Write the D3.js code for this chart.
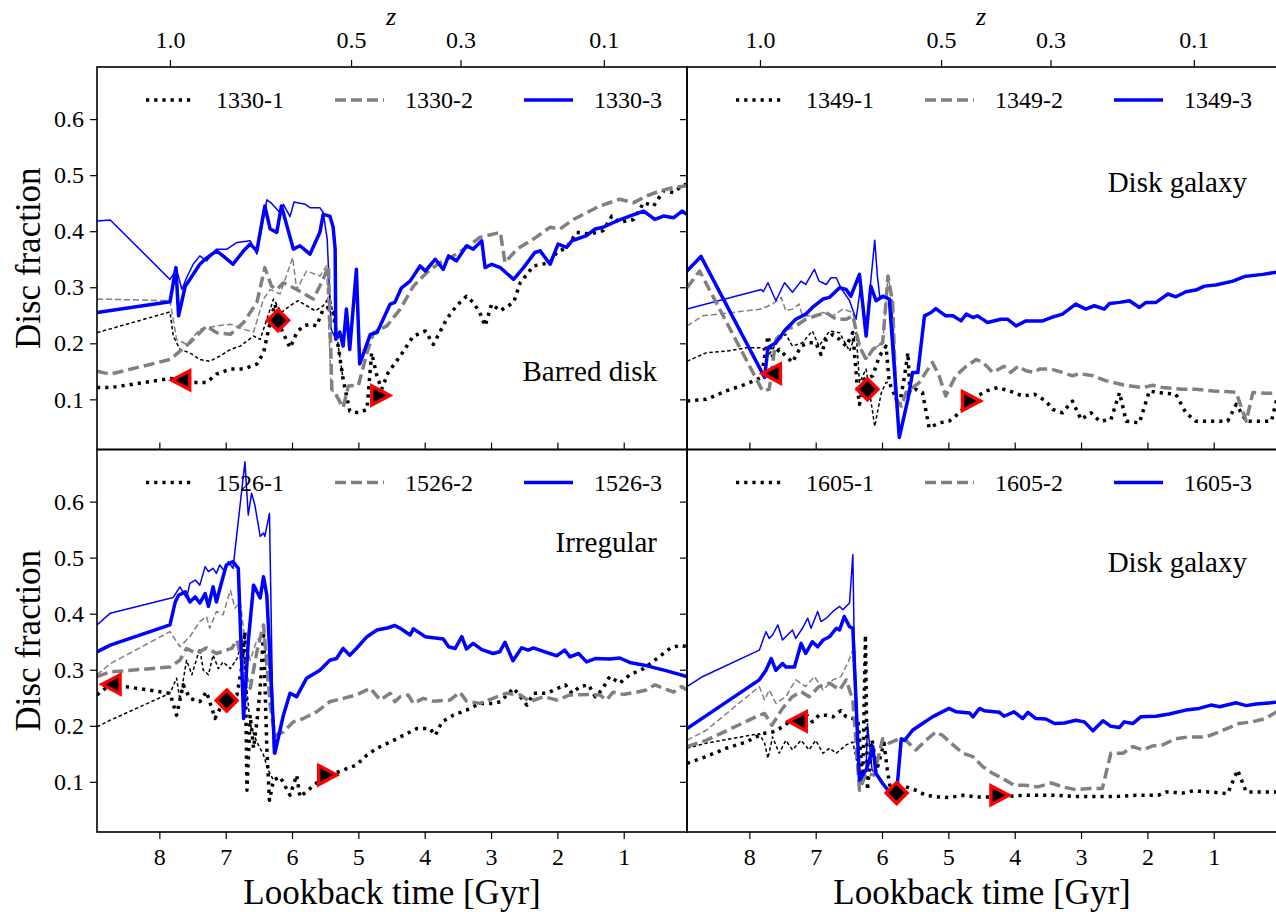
<!DOCTYPE html>
<html>
<head>
<meta charset="utf-8">
<script src="https://cdn.jsdelivr.net/npm/d3@7"></script>
<style>
	body{margin:0;background:#fff;}
	svg text{font-family:"Liberation Serif","Times New Roman",serif;fill:#000;}
</style>
</head>
<body>
<svg id="chart" width="1276" height="912"></svg>
<script>
// ---- data: [lookback time (Gyr), disc fraction] ----
var xTicks = [8, 7, 6, 5, 4, 3, 2, 1];
var yTicks = [0.1, 0.2, 0.3, 0.4, 0.5, 0.6];
var zTickLabels = ["1.0", "0.5", "0.3", "0.1"];
var zTickTimes = [7.84, 5.11, 3.46, 1.30];
var haloNames = ["1330", "1349", "1526", "1605"];
var morphology = ["Barred disk", "Disk galaxy", "Irregular", "Disk galaxy"];

// 1330
var d1330_1 = [[8.94,0.121],[8.74,0.121],[7.84,0.137],[7.69,0.136],[7.49,0.130],[7.29,0.130],[7.14,0.145],[6.93,0.154],[6.73,0.154],[6.53,0.163],[6.43,0.183],[6.33,0.237],[6.26,0.270],[6.16,0.225],[6.03,0.192],[5.93,0.219],[5.83,0.231],[5.73,0.234],[5.63,0.231],[5.53,0.261],[5.45,0.264],[5.38,0.255],[5.23,0.136],[5.13,0.079],[5.00,0.076],[4.87,0.082],[4.80,0.183],[4.72,0.142],[4.65,0.118],[4.55,0.148],[4.37,0.177],[4.17,0.213],[3.99,0.222],[3.87,0.198],[3.67,0.243],[3.52,0.267],[3.37,0.284],[3.27,0.273],[3.17,0.255],[3.09,0.231],[2.99,0.270],[2.86,0.258],[2.66,0.273],[2.56,0.308],[2.36,0.338],[2.11,0.344],[2.01,0.362],[1.86,0.371],[1.71,0.398],[1.51,0.395],[1.31,0.401],[1.18,0.427],[1.06,0.416],[0.85,0.421],[0.70,0.451],[0.55,0.445],[0.40,0.472],[0.25,0.469],[0.12,0.481],[0.05,0.484]];
var d1330_1thin = [[8.94,0.219],[7.84,0.256],[7.79,0.213],[7.69,0.189],[7.54,0.183],[7.39,0.171],[7.24,0.168],[7.09,0.177],[6.93,0.189],[6.78,0.195],[6.68,0.204],[6.58,0.213],[6.48,0.207],[6.38,0.243],[6.28,0.279],[6.16,0.255],[6.03,0.267],[5.91,0.276],[5.78,0.267],[5.65,0.258],[5.53,0.267],[5.43,0.284],[5.34,0.225],[5.23,0.136]];
var d1330_2 = [[8.94,0.150],[8.74,0.145],[7.84,0.171],[7.54,0.201],[7.29,0.231],[7.14,0.219],[6.93,0.216],[6.73,0.237],[6.53,0.273],[6.41,0.335],[6.31,0.302],[6.23,0.296],[6.13,0.308],[5.93,0.296],[5.68,0.279],[5.53,0.314],[5.45,0.338],[5.40,0.118],[5.34,0.109],[5.23,0.085],[5.15,0.124],[5.00,0.125],[4.87,0.183],[4.77,0.219],[4.57,0.231],[4.37,0.261],[4.17,0.302],[3.97,0.326],[3.77,0.344],[3.57,0.356],[3.37,0.371],[3.17,0.389],[2.86,0.398],[2.79,0.344],[2.61,0.368],[2.36,0.386],[2.11,0.407],[1.96,0.404],[1.76,0.421],[1.56,0.433],[1.36,0.445],[1.06,0.457],[0.85,0.451],[0.65,0.463],[0.45,0.472],[0.25,0.478],[0.05,0.481]];
var d1330_2thin = [[8.94,0.279],[7.84,0.276],[7.74,0.207],[7.59,0.198],[7.39,0.225],[7.14,0.231],[6.93,0.234],[6.73,0.225],[6.58,0.220],[6.43,0.279],[6.33,0.296],[6.18,0.288],[5.99,0.353],[5.93,0.296],[5.78,0.329],[5.58,0.320],[5.48,0.338],[5.41,0.118],[5.34,0.109]];
var d1330_3 = [[8.94,0.255],[7.84,0.274],[7.75,0.335],[7.71,0.249],[7.61,0.302],[7.54,0.314],[7.39,0.341],[7.31,0.350],[7.14,0.365],[7.04,0.356],[6.89,0.341],[6.73,0.365],[6.63,0.377],[6.53,0.365],[6.41,0.445],[6.33,0.404],[6.23,0.398],[6.16,0.445],[5.98,0.368],[5.88,0.374],[5.73,0.359],[5.58,0.398],[5.53,0.430],[5.43,0.427],[5.38,0.407],[5.35,0.368],[5.34,0.207],[5.28,0.220],[5.23,0.195],[5.18,0.261],[5.13,0.189],[5.03,0.332],[4.98,0.163],[4.82,0.216],[4.72,0.219],[4.52,0.270],[4.45,0.273],[4.35,0.299],[4.22,0.311],[4.07,0.338],[3.99,0.329],[3.84,0.350],[3.72,0.332],[3.64,0.356],[3.52,0.347],[3.37,0.374],[3.27,0.368],[3.14,0.383],[3.09,0.335],[2.99,0.341],[2.86,0.335],[2.66,0.314],[2.51,0.335],[2.34,0.362],[2.26,0.365],[2.11,0.341],[1.99,0.377],[1.86,0.371],[1.78,0.383],[1.56,0.392],[1.43,0.404],[1.31,0.407],[1.11,0.418],[0.91,0.427],[0.70,0.436],[0.53,0.421],[0.40,0.427],[0.25,0.424],[0.12,0.436],[0.05,0.430]];
var d1330_3thin = [[8.94,0.418],[8.74,0.420],[7.84,0.314],[7.74,0.332],[7.66,0.296],[7.59,0.317],[7.49,0.341],[7.39,0.356],[7.29,0.347],[7.14,0.368],[6.98,0.368],[6.83,0.380],[6.63,0.383],[6.53,0.359],[6.38,0.456],[6.31,0.450],[6.18,0.433],[6.13,0.448],[6.03,0.426],[5.97,0.452],[5.88,0.450],[5.80,0.448],[5.73,0.442],[5.58,0.442],[5.53,0.433],[5.47,0.386],[5.41,0.225],[5.34,0.207]];
var mark1330 = [["left",7.67,0.134],["diamond",6.21,0.241],["right",4.67,0.107]];

// 1349
var d1349_1 = [[8.94,0.097],[8.65,0.100],[8.35,0.115],[8.05,0.127],[7.82,0.139],[7.72,0.213],[7.65,0.177],[7.55,0.189],[7.35,0.166],[7.22,0.195],[7.10,0.201],[7.00,0.201],[6.92,0.180],[6.84,0.207],[6.74,0.216],[6.64,0.207],[6.54,0.195],[6.44,0.219],[6.37,0.118],[6.34,0.091],[6.27,0.136],[6.14,0.142],[6.04,0.177],[5.94,0.195],[5.89,0.130],[5.74,0.088],[5.66,0.142],[5.61,0.183],[5.58,0.112],[5.49,0.118],[5.39,0.112],[5.29,0.049],[5.14,0.058],[4.99,0.061],[4.83,0.076],[4.68,0.097],[4.43,0.115],[4.26,0.121],[4.08,0.115],[3.88,0.106],[3.70,0.109],[3.53,0.097],[3.43,0.082],[3.28,0.076],[3.13,0.097],[3.00,0.064],[2.85,0.076],[2.72,0.061],[2.55,0.064],[2.42,0.112],[2.32,0.061],[2.12,0.058],[1.97,0.115],[1.84,0.112],[1.57,0.109],[1.42,0.076],[1.27,0.061],[1.01,0.061],[0.79,0.061],[0.66,0.091],[0.51,0.061],[0.31,0.061],[0.13,0.061],[0.05,0.100]];
var d1349_1thin = [[8.94,0.168],[8.65,0.183],[8.35,0.186],[8.05,0.192],[7.80,0.192],[7.72,0.177],[7.65,0.189],[7.55,0.207],[7.45,0.216],[7.35,0.195],[7.20,0.201],[7.05,0.222],[6.95,0.195],[6.79,0.222],[6.64,0.219],[6.49,0.186],[6.39,0.219],[6.34,0.130],[6.24,0.154],[6.11,0.052],[6.01,0.112],[5.94,0.130],[5.89,0.130]];
var d1349_2 = [[8.94,0.299],[8.75,0.329],[7.80,0.115],[7.70,0.118],[7.60,0.207],[7.45,0.225],[7.30,0.231],[7.15,0.243],[7.00,0.249],[6.85,0.255],[6.69,0.243],[6.54,0.243],[6.44,0.249],[6.34,0.195],[6.24,0.171],[6.14,0.189],[5.99,0.201],[5.91,0.320],[5.84,0.273],[5.79,0.100],[5.71,0.088],[5.64,0.112],[5.44,0.130],[5.24,0.166],[5.14,0.142],[5.04,0.106],[4.89,0.142],[4.73,0.159],[4.58,0.171],[4.48,0.166],[4.33,0.148],[4.16,0.159],[4.06,0.148],[3.95,0.159],[3.83,0.151],[3.70,0.148],[3.63,0.154],[3.45,0.154],[3.28,0.148],[3.13,0.142],[3.03,0.146],[2.82,0.142],[2.62,0.133],[2.37,0.126],[2.07,0.121],[1.92,0.125],[1.77,0.121],[1.47,0.118],[1.27,0.118],[1.01,0.115],[0.71,0.113],[0.66,0.112],[0.51,0.061],[0.41,0.112],[0.21,0.111],[0.05,0.111]];
var d1349_2thin = [[8.94,0.231],[8.70,0.249],[7.82,0.261],[7.65,0.270],[7.52,0.282],[7.45,0.258],[7.35,0.261],[7.25,0.270],[7.20,0.249],[7.05,0.249],[6.89,0.255],[6.74,0.249],[6.59,0.261],[6.44,0.255],[6.34,0.195],[6.24,0.171],[6.14,0.189],[5.99,0.201],[5.91,0.320],[5.84,0.273],[5.79,0.100]];
var d1349_3 = [[8.94,0.329],[8.73,0.355],[7.77,0.139],[7.72,0.192],[7.60,0.201],[7.45,0.225],[7.30,0.243],[7.15,0.252],[7.05,0.264],[6.89,0.279],[6.79,0.282],[6.64,0.299],[6.54,0.296],[6.47,0.284],[6.34,0.323],[6.24,0.213],[6.17,0.302],[6.09,0.276],[5.99,0.284],[5.89,0.279],[5.74,0.032],[5.61,0.100],[5.54,0.148],[5.46,0.148],[5.36,0.249],[5.26,0.255],[5.19,0.262],[5.04,0.249],[4.93,0.249],[4.81,0.240],[4.73,0.252],[4.63,0.246],[4.56,0.249],[4.41,0.237],[4.21,0.243],[4.11,0.243],[3.98,0.231],[3.83,0.240],[3.58,0.240],[3.45,0.246],[3.28,0.252],[3.08,0.270],[2.93,0.261],[2.80,0.267],[2.65,0.261],[2.57,0.271],[2.42,0.273],[2.27,0.276],[2.12,0.264],[2.02,0.273],[1.87,0.273],[1.69,0.288],[1.57,0.283],[1.42,0.292],[1.27,0.295],[1.14,0.302],[0.97,0.304],[0.71,0.311],[0.54,0.319],[0.26,0.323],[0.05,0.327]];
var d1349_3thin = [[8.94,0.261],[7.82,0.296],[7.79,0.292],[7.72,0.308],[7.60,0.276],[7.47,0.308],[7.35,0.291],[7.22,0.311],[7.15,0.305],[7.02,0.332],[6.95,0.311],[6.84,0.305],[6.77,0.317],[6.69,0.317],[6.62,0.299],[6.49,0.276],[6.39,0.243],[6.32,0.304],[6.24,0.225],[6.11,0.384],[6.07,0.320],[6.03,0.279],[5.94,0.284],[5.86,0.276],[5.74,0.032]];
var mark1349 = [["left",7.66,0.146],["diamond",6.22,0.118],["right",4.66,0.097]];

// 1526
var d1526_1 = [[8.94,0.255],[8.74,0.274],[7.84,0.258],[7.74,0.219],[7.64,0.273],[7.54,0.249],[7.39,0.243],[7.29,0.261],[7.16,0.213],[7.06,0.237],[6.93,0.246],[6.83,0.255],[6.76,0.303],[6.71,0.368],[6.68,0.085],[6.63,0.219],[6.58,0.160],[6.53,0.207],[6.48,0.267],[6.43,0.368],[6.38,0.160],[6.34,0.067],[6.28,0.103],[6.18,0.109],[6.03,0.076],[5.93,0.112],[5.88,0.073],[5.73,0.088],[5.58,0.103],[5.43,0.112],[5.23,0.121],[5.03,0.130],[4.87,0.148],[4.72,0.160],[4.52,0.171],[4.37,0.180],[4.22,0.189],[4.12,0.195],[3.92,0.195],[3.84,0.183],[3.74,0.207],[3.57,0.219],[3.37,0.228],[3.17,0.240],[2.97,0.240],[2.86,0.243],[2.66,0.267],[2.46,0.237],[2.36,0.258],[2.16,0.258],[1.88,0.273],[1.78,0.258],[1.66,0.270],[1.53,0.273],[1.43,0.252],[1.33,0.264],[1.21,0.288],[1.06,0.276],[0.91,0.291],[0.70,0.302],[0.50,0.320],[0.30,0.338],[0.15,0.344],[0.05,0.341]];
var d1526_1thin = [[8.94,0.198],[8.74,0.210],[7.84,0.258],[7.74,0.285],[7.69,0.246],[7.59,0.317],[7.51,0.291],[7.39,0.338],[7.34,0.300],[7.26,0.291],[7.19,0.326],[7.11,0.302],[7.04,0.314],[6.93,0.302],[6.83,0.320],[6.75,0.353],[6.63,0.201],[6.53,0.171],[6.43,0.148],[6.36,0.121],[6.28,0.103]];
var d1526_2 = [[8.94,0.288],[8.74,0.296],[7.84,0.305],[7.69,0.317],[7.59,0.338],[7.44,0.329],[7.29,0.339],[7.14,0.329],[6.91,0.338],[6.83,0.353],[6.73,0.302],[6.63,0.267],[6.53,0.332],[6.43,0.380],[6.33,0.237],[6.26,0.183],[6.13,0.189],[5.98,0.207],[5.83,0.213],[5.63,0.225],[5.43,0.243],[5.23,0.249],[5.03,0.255],[4.82,0.267],[4.67,0.246],[4.52,0.258],[4.45,0.243],[4.37,0.252],[4.25,0.255],[4.17,0.240],[4.02,0.249],[3.87,0.244],[3.62,0.246],[3.47,0.260],[3.37,0.244],[3.17,0.240],[2.97,0.249],[2.77,0.258],[2.56,0.255],[2.41,0.243],[2.21,0.252],[2.01,0.246],[1.81,0.255],[1.51,0.256],[1.36,0.255],[1.26,0.246],[1.16,0.260],[1.01,0.256],[0.81,0.260],[0.66,0.264],[0.53,0.273],[0.40,0.267],[0.25,0.260],[0.13,0.270],[0.05,0.264]];
var d1526_2thin = [[8.94,0.291],[8.74,0.311],[7.84,0.368],[7.69,0.341],[7.54,0.359],[7.39,0.386],[7.29,0.395],[7.24,0.374],[7.14,0.404],[7.04,0.398],[6.93,0.442],[6.86,0.410],[6.78,0.421],[6.71,0.353],[6.63,0.317],[6.53,0.353],[6.43,0.362],[6.36,0.317],[6.26,0.183]];
var d1526_3 = [[8.94,0.332],[8.74,0.344],[7.84,0.380],[7.76,0.421],[7.71,0.433],[7.61,0.439],[7.54,0.421],[7.46,0.430],[7.39,0.419],[7.31,0.436],[7.26,0.413],[7.19,0.448],[7.14,0.421],[7.06,0.457],[6.99,0.487],[6.89,0.493],[6.81,0.481],[6.73,0.213],[6.66,0.350],[6.58,0.451],[6.48,0.428],[6.43,0.466],[6.38,0.433],[6.26,0.151],[6.13,0.219],[6.03,0.258],[5.93,0.252],[5.78,0.285],[5.58,0.299],[5.43,0.317],[5.33,0.320],[5.23,0.338],[5.13,0.326],[5.03,0.338],[4.87,0.359],[4.72,0.371],[4.55,0.375],[4.45,0.379],[4.37,0.374],[4.22,0.362],[4.17,0.373],[3.99,0.359],[3.87,0.357],[3.72,0.355],[3.64,0.341],[3.54,0.338],[3.44,0.359],[3.37,0.337],[3.27,0.347],[3.14,0.336],[2.97,0.329],[2.87,0.332],[2.79,0.349],[2.67,0.316],[2.54,0.339],[2.44,0.335],[2.36,0.339],[2.19,0.332],[2.01,0.325],[1.89,0.335],[1.81,0.323],[1.68,0.329],[1.56,0.314],[1.43,0.320],[1.21,0.319],[1.06,0.321],[0.91,0.313],[0.65,0.307],[0.35,0.298],[0.05,0.288]];
var d1526_3thin = [[8.94,0.380],[8.74,0.401],[7.79,0.429],[7.69,0.448],[7.59,0.428],[7.54,0.454],[7.46,0.460],[7.39,0.451],[7.31,0.484],[7.26,0.475],[7.19,0.481],[7.14,0.472],[7.09,0.487],[7.01,0.475],[6.96,0.493],[6.89,0.481],[6.71,0.671],[6.66,0.576],[6.61,0.615],[6.56,0.594],[6.48,0.538],[6.43,0.544],[6.41,0.538],[6.34,0.579],[6.28,0.151],[6.26,0.151]];
var mark1526 = [["left",8.72,0.274],["diamond",6.985,0.245],["right",5.47,0.112]];

// 1605
var d1605_1 = [[8.94,0.133],[8.65,0.145],[8.35,0.160],[8.05,0.171],[7.80,0.186],[7.65,0.189],[7.50,0.198],[7.40,0.207],[7.27,0.208],[7.15,0.222],[7.05,0.207],[6.95,0.219],[6.84,0.219],[6.74,0.216],[6.62,0.227],[6.54,0.216],[6.44,0.213],[6.36,0.207],[6.29,0.103],[6.25,0.362],[6.22,0.085],[6.15,0.175],[6.08,0.121],[5.97,0.169],[5.92,0.121],[5.87,0.085],[5.78,0.080],[5.64,0.091],[5.49,0.085],[5.34,0.076],[5.14,0.073],[4.99,0.072],[4.78,0.076],[4.58,0.073],[4.28,0.073],[4.08,0.074],[3.88,0.076],[3.58,0.076],[3.38,0.076],[3.08,0.074],[2.82,0.074],[2.47,0.074],[2.17,0.076],[1.84,0.076],[1.71,0.082],[1.46,0.080],[1.31,0.084],[1.06,0.082],[0.79,0.079],[0.64,0.121],[0.51,0.082],[0.31,0.082],[0.05,0.082]];
var d1605_1thin = [[8.94,0.160],[8.65,0.169],[7.85,0.186],[7.77,0.169],[7.72,0.142],[7.65,0.180],[7.55,0.151],[7.45,0.174],[7.35,0.157],[7.22,0.174],[7.10,0.157],[7.00,0.174],[6.89,0.151],[6.79,0.160],[6.69,0.151],[6.54,0.166],[6.44,0.171],[6.34,0.112],[6.29,0.103]];
var d1605_2 = [[8.94,0.163],[8.65,0.174],[7.85,0.219],[7.77,0.222],[7.66,0.201],[7.50,0.231],[7.35,0.252],[7.22,0.261],[7.10,0.252],[6.95,0.270],[6.79,0.276],[6.64,0.264],[6.54,0.282],[6.44,0.246],[6.34,0.085],[6.24,0.115],[6.12,0.112],[5.99,0.177],[5.89,0.169],[5.74,0.177],[5.64,0.174],[5.49,0.157],[5.34,0.174],[5.19,0.189],[5.09,0.183],[4.93,0.166],[4.78,0.151],[4.63,0.145],[4.48,0.127],[4.33,0.115],[4.18,0.106],[4.01,0.094],[3.85,0.094],[3.65,0.091],[3.45,0.098],[3.28,0.091],[3.08,0.086],[2.88,0.088],[2.68,0.088],[2.55,0.151],[2.37,0.151],[2.22,0.163],[2.07,0.157],[1.92,0.164],[1.77,0.166],[1.57,0.177],[1.39,0.180],[1.12,0.180],[0.92,0.189],[0.62,0.204],[0.42,0.207],[0.22,0.213],[0.05,0.225]];
var d1605_2thin = [[8.94,0.174],[8.65,0.192],[7.85,0.270],[7.77,0.246],[7.70,0.264],[7.60,0.240],[7.45,0.252],[7.30,0.282],[7.15,0.270],[7.02,0.288],[6.89,0.264],[6.74,0.282],[6.62,0.288],[6.52,0.311],[6.44,0.335],[6.34,0.091]];
var d1605_3 = [[8.94,0.195],[7.85,0.282],[7.75,0.299],[7.67,0.320],[7.60,0.299],[7.50,0.311],[7.45,0.305],[7.32,0.305],[7.22,0.347],[7.15,0.329],[7.05,0.350],[6.97,0.341],[6.89,0.353],[6.79,0.359],[6.69,0.374],[6.64,0.371],[6.57,0.395],[6.49,0.377],[6.44,0.374],[6.34,0.103],[6.24,0.121],[6.20,0.135],[6.14,0.163],[6.09,0.115],[5.99,0.097],[5.89,0.082],[5.78,0.080],[5.71,0.177],[5.66,0.174],[5.54,0.192],[5.39,0.204],[5.24,0.216],[4.99,0.231],[4.88,0.225],[4.68,0.223],[4.63,0.216],[4.53,0.231],[4.46,0.227],[4.23,0.224],[4.16,0.217],[4.01,0.225],[3.88,0.213],[3.80,0.224],[3.68,0.213],[3.53,0.212],[3.40,0.204],[3.25,0.205],[3.08,0.210],[2.95,0.207],[2.82,0.191],[2.67,0.209],[2.55,0.199],[2.42,0.197],[2.35,0.207],[2.22,0.204],[2.10,0.216],[1.87,0.217],[1.67,0.221],[1.42,0.228],[1.22,0.231],[1.04,0.237],[0.91,0.234],[0.66,0.241],[0.51,0.236],[0.36,0.239],[0.05,0.242]];
var d1605_3thin = [[8.94,0.270],[8.70,0.288],[7.85,0.335],[7.75,0.368],[7.70,0.356],[7.65,0.362],[7.57,0.380],[7.50,0.353],[7.35,0.371],[7.30,0.356],[7.20,0.374],[7.12,0.392],[7.07,0.374],[6.97,0.404],[6.92,0.386],[6.84,0.392],[6.74,0.404],[6.64,0.413],[6.59,0.407],[6.49,0.419],[6.44,0.505],[6.42,0.353],[6.34,0.103],[6.24,0.121],[6.22,0.204],[6.15,0.121],[6.09,0.115]];
var mark1605 = [["left",7.27,0.208],["diamond",5.78,0.080],["right",4.23,0.076]];

// ---- layout ----
var W = 590, H = 382.5;
var colX = [97, 687];
var rowY = [67, 449.5];

var panels = [
	{name:haloNames[0], col:0, row:0, thick:[d1330_1, d1330_2, d1330_3], thin:[d1330_1thin, d1330_2thin, d1330_3thin], marks:mark1330, label:morphology[0], labelY:314},
	{name:haloNames[1], col:1, row:0, thick:[d1349_1, d1349_2, d1349_3], thin:[d1349_1thin, d1349_2thin, d1349_3thin], marks:mark1349, label:morphology[1], labelY:125},
	{name:haloNames[2], col:0, row:1, thick:[d1526_1, d1526_2, d1526_3], thin:[d1526_1thin, d1526_2thin, d1526_3thin], marks:mark1526, label:morphology[2], labelY:102},
	{name:haloNames[3], col:1, row:1, thick:[d1605_1, d1605_2, d1605_3], thin:[d1605_1thin, d1605_2thin, d1605_3thin], marks:mark1605, label:morphology[3], labelY:122}
];

// dotted black, dashed gray, solid blue
var lineStyles = [
	{color:"#000000", thickW:3.5, thickDash:"3.2,5", thinW:1.5, thinDash:"3.5,2.5"},
	{color:"#808080", thickW:3.5, thickDash:"11,5", thinW:1.5, thinDash:"6,3"},
	{color:"#0000ff", thickW:3.5, thickDash:null, thinW:1.5, thinDash:null}
];

var x = d3.scaleLinear().domain([8.94, 0.046]).range([0, W]);
var y = d3.scaleLinear().domain([0.0105, 0.693]).range([H, 0]);
var line = d3.line()
	.x(function(d){ return x(d[0]); })
	.y(function(d){ return y(d[1]); });

var svg = d3.select("#chart");
svg.append("rect").attr("width", 1276).attr("height", 912).attr("fill", "#fff");

function markerPath(shape){
	if(shape == "diamond"){
		return "M0,-10.5L10.5,0L0,10.5L-10.5,0Z";
	}
	if(shape == "left"){
		return "M-9.5,0L8.5,-9.5L8.5,9.5Z";
	}
	return "M9.5,0L-8.5,-9.5L-8.5,9.5Z";
}

function styleAxis(g, size){
	g.select(".domain").remove();
	g.selectAll(".tick line").attr("stroke", "#000").attr("stroke-width", 1.2);
	g.selectAll(".tick text")
		.style("font-family", '"Liberation Serif", serif')
		.style("font-size", size + "px")
		.attr("fill", "#000");
}

function drawPanel(p){
	var g = svg.append("g")
		.attr("transform", "translate(" + colX[p.col] + "," + rowY[p.row] + ")");

	g.append("clipPath").attr("id", "clip" + p.name)
		.append("rect").attr("width", W).attr("height", H);
	var plot = g.append("g").attr("clip-path", "url(#clip" + p.name + ")");

	// thin (early) tracks first, thick on top
	p.thin.forEach(function(d, i){
		var s = lineStyles[i];
		plot.append("path").datum(d)
			.attr("d", line)
			.attr("fill", "none")
			.attr("stroke", s.color)
			.attr("stroke-width", s.thinW)
			.attr("stroke-dasharray", s.thinDash)
			.attr("stroke-linejoin", "round");
	});
	p.thick.forEach(function(d, i){
		var s = lineStyles[i];
		plot.append("path").datum(d)
			.attr("d", line)
			.attr("fill", "none")
			.attr("stroke", s.color)
			.attr("stroke-width", s.thickW)
			.attr("stroke-dasharray", s.thickDash)
			.attr("stroke-linejoin", "round");
	});

	g.selectAll(".mark").data(p.marks).enter().append("path")
		.attr("class", "mark")
		.attr("transform", function(d){ return "translate(" + x(d[1]) + "," + y(d[2]) + ")"; })
		.attr("d", function(d){ return markerPath(d[0]); })
		.attr("fill", "#000")
		.attr("stroke", "#ff0000")
		.attr("stroke-width", 3.4)
		.attr("stroke-linejoin", "miter");

	// y axis (labels only on the left column)
	var yAxis = d3.axisLeft(y).tickValues(yTicks).tickSize(7).tickPadding(6)
		.tickFormat(p.col == 0 ? d3.format(".1f") : "");
	styleAxis(g.append("g").call(yAxis), 24);

	if(p.row == 1){
		var xAxis = d3.axisBottom(x).tickValues(xTicks).tickSize(7).tickPadding(9)
			.tickFormat(d3.format("d"));
		styleAxis(g.append("g").attr("transform", "translate(0," + H + ")").call(xAxis), 24);
		g.append("text")
			.attr("x", W / 2).attr("y", H + 72)
			.attr("text-anchor", "middle")
			.style("font-size", "35px")
			.text("Lookback time [Gyr]");
	}else{
		// inward ticks on the shared edge
		var xIn = d3.axisBottom(x).tickValues(xTicks).tickSizeInner(-7).tickSizeOuter(0).tickFormat("");
		styleAxis(g.append("g").attr("transform", "translate(0," + H + ")").call(xIn), 24);
		// redshift on top
		var zAxis = d3.axisTop(x).tickValues(zTickTimes).tickSize(7).tickPadding(12)
			.tickFormat(function(d, i){ return zTickLabels[i]; });
		styleAxis(g.append("g").call(zAxis), 24);
		g.append("text")
			.attr("x", 294).attr("y", -42)
			.attr("text-anchor", "middle")
			.style("font-size", "26px")
			.style("font-style", "italic")
			.text("z");
	}

	if(p.col == 0){
		g.append("text")
			.attr("transform", "translate(-57," + (H / 2) + ") rotate(-90)")
			.attr("text-anchor", "middle")
			.style("font-size", "35px")
			.text("Disc fraction");
	}

	// legend
	var leg = g.append("g").attr("transform", "translate(0,33)");
	lineStyles.forEach(function(s, i){
		var lx = 49 + i * 189;
		leg.append("line")
			.attr("x1", lx).attr("x2", lx + 49)
			.attr("y1", 0).attr("y2", 0)
			.attr("stroke", s.color)
			.attr("stroke-width", s.thickW)
			.attr("stroke-dasharray", s.thickDash);
		leg.append("text")
			.attr("x", lx + 70).attr("y", 8)
			.style("font-size", "24px")
			.text(p.name + "-" + (i + 1));
	});

	g.append("text")
		.attr("x", 560).attr("y", p.labelY)
		.attr("text-anchor", "end")
		.style("font-size", "29px")
		.text(p.label);

	g.append("rect")
		.attr("width", W).attr("height", H)
		.attr("fill", "none")
		.attr("stroke", "#000")
		.attr("stroke-width", 1.6);
}

panels.forEach(drawPanel);
</script>
</body>
</html>
